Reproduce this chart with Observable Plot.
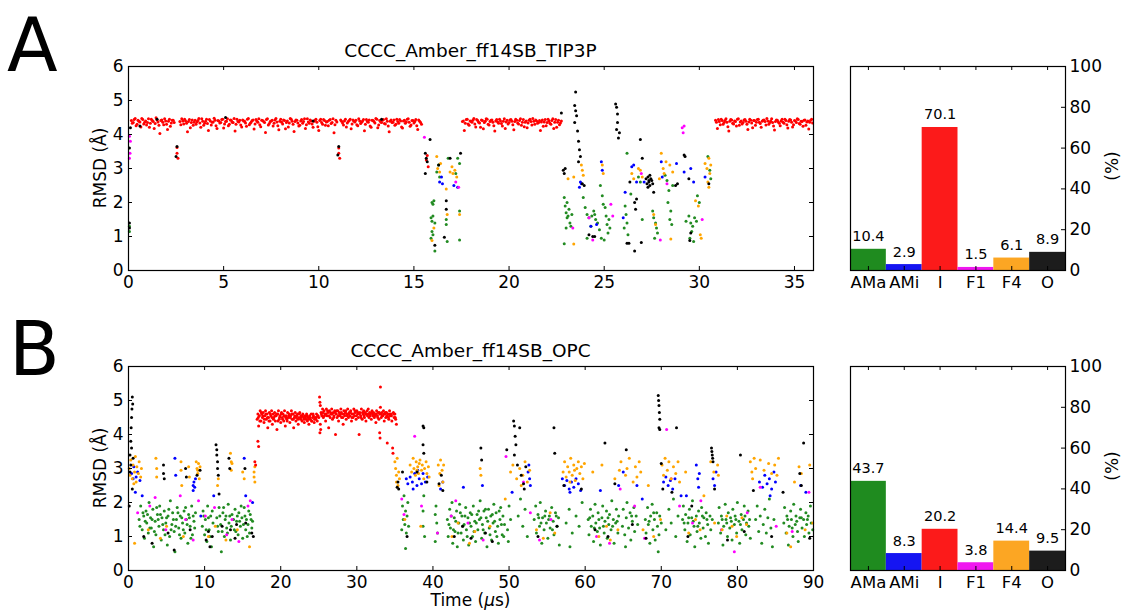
<!DOCTYPE html>
<html><head><meta charset="utf-8">
<script src="https://cdn.jsdelivr.net/npm/d3@7"></script>
<script src="https://cdn.jsdelivr.net/npm/@observablehq/plot@0.6"></script>
<style>
body{margin:0;background:#fff;}
#root{position:relative;width:1121px;height:613px;overflow:hidden;font-family:"DejaVu Sans",sans-serif;}
#root svg{position:absolute;}
</style></head><body><div id="root"></div>
<script>
// ---------- data ----------
const states = ["AMa", "AMi", "I", "F1", "F4", "O"];
const dotColors = {AMa:"#228b22", AMi:"#0000ff", I:"#ff0000", F1:"#ff00ff", F4:"#ffa500", O:"#000000"};
const barColors = ["#1f8b1f", "#1515f2", "#fc1a1a", "#f018f0", "#fca623", "#1c1c1c"];
const pctA = [10.4, 2.9, 70.1, 1.5, 6.1, 8.9];
const pctB = [43.7, 8.3, 20.2, 3.8, 14.4, 9.5];
const titleA = "CCCC_Amber_ff14SB_TIP3P";
const titleB = "CCCC_Amber_ff14SB_OPC";
const xTicksA = [0, 5, 10, 15, 20, 25, 30, 35];
const xTicksB = [0, 10, 20, 30, 40, 50, 60, 70, 80, 90];
const yTicksRmsd = [0, 1, 2, 3, 4, 5, 6];
const yTicksPct = [0, 20, 40, 60, 80, 100];

// panel A points: [time (us), RMSD (A)] pairs
const aI = [
0.15,4.41,0.25,4.35,0.35,4.47,0.45,4.30,0.55,4.39,0.65,4.22,0.75,4.44,0.85,4.36,0.95,4.28,1.05,4.46,1.15,4.33,1.25,4.41,1.35,4.18,1.45,4.49,1.55,4.37,1.65,4.03,1.75,4.43,1.85,4.29,1.95,4.40,2.05,4.15,2.15,4.45,2.25,4.34,2.35,4.42,2.55,3.62,2.55,3.45,2.6,3.3,2.7,4.38,2.8,4.46,2.9,4.31,3.0,4.40,3.1,4.08,3.2,4.44,3.3,4.35,3.4,4.27,3.5,4.42,3.6,4.37,3.7,4.47,3.8,4.21,3.9,4.39,4.0,4.33,4.1,4.45,4.2,4.12,4.3,4.40,4.4,4.36,4.5,4.48,4.6,4.26,4.7,4.41,4.8,4.34,4.9,4.44,5.0,4.19,5.1,4.38,5.2,4.46,5.3,4.30,5.4,4.42,5.5,4.35,5.6,4.10,5.7,4.45,5.8,4.37,5.9,4.28,6.0,4.43,6.1,4.39,6.2,4.24,6.3,4.47,6.4,4.33,6.5,4.41,6.6,4.16,6.7,4.44,6.8,4.36,6.9,4.29,7.0,4.42,7.1,4.38,7.2,4.06,7.3,4.46,7.4,4.32,7.5,4.40,7.6,4.25,7.7,4.43,7.8,4.37,7.9,4.14,8.0,4.45,8.1,4.31,8.2,4.41,8.3,4.35,8.4,4.22,8.5,4.47,8.6,4.39,8.7,4.09,8.8,4.43,8.9,4.34,9.0,4.27,9.1,4.44,9.2,4.38,9.3,4.18,9.4,4.46,9.5,4.33,9.6,4.40,9.7,4.21,9.8,4.42,9.9,4.36,10.0,4.12,10.1,4.45,10.2,4.30,10.3,4.41,10.4,4.37,10.5,4.26,10.6,4.44,10.7,4.35,10.8,4.05,10.9,4.42,11.05,3.6,11.05,3.45,11.1,3.3,11.2,4.39,11.3,4.28,11.4,4.45,11.5,4.34,11.6,4.41,11.7,4.17,11.8,4.43,11.9,4.37,12.0,4.29,12.1,4.46,12.2,4.32,12.3,4.40,12.4,4.11,12.5,4.44,12.6,4.36,12.7,4.25,12.8,4.42,12.9,4.38,13.0,4.47,13.1,4.20,13.2,4.41,13.3,4.35,13.4,4.44,13.5,4.31,13.6,4.39,13.7,4.08,13.8,4.43,13.9,4.36,14.0,4.27,14.1,4.45,14.2,4.33,14.3,4.40,14.4,4.19,14.5,4.42,14.6,4.37,14.7,4.46,14.8,4.24,14.9,4.41,15.0,4.34,15.1,4.44,15.2,4.15,15.3,4.39,15.4,4.30,
0.2,4.33,0.3,4.44,0.4,4.26,0.5,4.42,0.6,4.37,0.7,4.47,0.8,4.31,0.9,4.40,1.0,4.35,1.1,4.21,1.2,4.45,1.3,4.38,1.4,4.32,1.5,4.43,1.6,4.27,1.7,4.41,1.8,4.36,1.9,4.46,2.0,4.30,2.1,4.39,2.2,4.24,2.3,4.42,2.4,4.35,2.75,4.29,2.85,4.40,2.95,4.45,3.05,4.33,3.15,4.38,3.25,4.20,3.35,4.43,3.45,4.36,3.55,4.30,3.65,4.41,3.75,4.34,3.85,4.46,3.95,4.27,4.05,4.39,4.15,4.32,4.25,4.44,4.35,4.28,4.45,4.37,4.55,4.42,4.65,4.18,4.75,4.40,4.85,4.35,4.95,4.45,5.05,4.31,5.15,4.39,5.25,4.26,5.35,4.43,5.45,4.36,5.55,4.47,5.65,4.30,5.75,4.38,5.85,4.42,5.95,4.22,6.05,4.40,6.15,4.34,6.25,4.45,6.35,4.29,6.45,4.37,6.55,4.43,6.65,4.31,6.75,4.39,6.85,4.46,6.95,4.23,7.05,4.41,7.15,4.35,7.25,4.44,7.35,4.28,7.45,4.38,7.55,4.42,7.65,4.33,7.75,4.47,7.85,4.26,7.95,4.39,8.05,4.36,8.15,4.43,8.25,4.17,8.35,4.40,8.45,4.34,8.55,4.45,8.65,4.30,8.75,4.38,8.85,4.42,8.95,4.25,9.05,4.40,9.15,4.33,9.25,4.46,9.35,4.29,9.45,4.37,9.55,4.43,9.65,4.31,9.75,4.39,9.85,4.45,9.95,4.23,10.05,4.41,10.15,4.35,10.25,4.44,10.35,4.27,10.45,4.38,10.55,4.42,10.65,4.32,10.75,4.46,10.85,4.29,10.95,4.37,11.15,4.43,11.25,4.34,11.35,4.40,11.45,4.22,11.55,4.38,11.65,4.45,11.75,4.31,11.85,4.39,11.95,4.42,12.05,4.26,12.15,4.40,12.25,4.36,12.35,4.44,12.45,4.30,12.55,4.38,12.65,4.43,12.75,4.21,12.85,4.41,12.95,4.34,13.05,4.45,13.15,4.28,13.25,4.37,13.35,4.42,13.45,4.32,13.55,4.46,13.65,4.25,13.75,4.39,13.85,4.35,13.95,4.43,14.05,4.30,14.15,4.38,14.25,4.44,14.35,4.22,14.45,4.40,14.55,4.33,14.65,4.45,14.75,4.36,14.85,4.28,14.95,4.41,15.05,4.38,15.15,4.26,15.25,4.43,15.35,4.35,
15.7,3.38,15.75,3.05,15.65,3.25,
17.55,4.38,17.65,4.12,17.75,4.44,17.85,4.31,17.95,4.40,18.05,4.36,18.15,4.47,18.25,4.22,18.35,4.41,18.45,4.34,18.55,4.43,18.65,4.17,18.75,4.39,18.85,4.45,18.95,4.28,19.05,4.42,19.15,4.36,19.25,4.10,19.35,4.44,19.45,4.33,19.55,4.40,19.65,4.25,19.75,4.46,19.85,4.37,19.95,4.31,20.05,4.43,20.15,4.39,20.25,4.14,20.35,4.45,20.45,4.34,20.55,4.41,20.65,4.27,20.75,4.44,20.85,4.36,20.95,4.20,21.05,4.42,21.15,4.38,21.25,4.47,21.35,4.30,21.45,4.40,21.55,4.35,21.65,4.12,21.75,4.43,21.85,4.37,21.95,4.26,22.05,4.45,22.15,4.33,22.25,4.41,22.35,4.18,22.45,4.44,22.55,4.36,22.65,4.29,22.75,4.40,
17.6,4.40,17.7,4.33,17.8,4.45,17.9,4.27,18.0,4.39,18.1,4.42,18.2,4.31,18.3,4.44,18.4,4.36,18.5,4.21,18.6,4.41,18.7,4.35,18.8,4.46,18.9,4.30,19.0,4.38,19.1,4.43,19.2,4.26,19.3,4.40,19.4,4.37,19.5,4.45,19.6,4.32,19.7,4.39,19.8,4.18,19.9,4.42,20.0,4.35,20.1,4.44,20.2,4.29,20.3,4.38,20.4,4.42,20.5,4.31,20.6,4.46,20.7,4.36,20.8,4.23,20.9,4.40,21.0,4.34,21.1,4.45,21.2,4.28,21.3,4.39,21.4,4.43,21.5,4.33,21.6,4.41,21.7,4.37,21.8,4.24,21.9,4.44,22.0,4.35,22.1,4.40,22.2,4.30,22.3,4.46,22.4,4.36,22.5,4.21,22.6,4.42,22.7,4.34,
30.85,4.42,30.95,4.18,31.05,4.38,31.15,4.45,31.25,4.30,31.35,4.41,31.45,4.36,31.55,4.10,31.65,4.44,31.75,4.33,31.85,4.40,31.95,4.25,32.05,4.46,32.15,4.37,32.25,4.31,32.35,4.43,32.45,4.39,32.55,4.15,32.65,4.45,32.75,4.34,32.85,4.41,32.95,4.27,33.05,4.44,33.15,4.36,33.25,4.21,33.35,4.42,33.45,4.38,33.55,4.47,33.65,4.30,33.75,4.40,33.85,4.35,33.95,4.13,34.05,4.43,34.15,4.37,34.25,4.26,34.35,4.45,34.45,4.33,34.55,4.41,34.65,4.19,34.75,4.44,34.85,4.36,34.95,4.29,35.05,4.40,35.15,4.46,35.25,4.32,35.35,4.39,35.45,4.24,35.55,4.43,35.65,4.37,35.75,4.16,35.85,4.42,35.95,4.34,
30.9,4.36,31.0,4.44,31.1,4.29,31.2,4.41,31.3,4.35,31.4,4.46,31.5,4.23,31.6,4.39,31.7,4.43,31.8,4.31,31.9,4.38,32.0,4.45,32.1,4.27,32.2,4.40,32.3,4.35,32.4,4.44,32.5,4.30,32.6,4.37,32.7,4.42,32.8,4.20,32.9,4.41,33.0,4.36,33.1,4.45,33.2,4.32,33.3,4.39,33.4,4.43,33.5,4.28,33.6,4.40,33.7,4.35,33.8,4.46,33.9,4.25,34.0,4.38,34.1,4.42,34.2,4.33,34.3,4.40,34.4,4.36,34.5,4.45,34.6,4.29,34.7,4.39,34.8,4.43,34.9,4.22,35.0,4.41,35.1,4.35,35.2,4.44,35.3,4.30,35.4,4.38,35.5,4.42,35.6,4.27,35.7,4.40,35.8,4.36,35.9,4.45
];
const aAMa = [
0.05,1.3,0.05,1.15,
15.95,2.0,16.0,1.95,16.05,2.05,15.9,1.55,15.95,1.45,16.0,1.6,16.1,1.4,15.95,1.15,16.0,1.05,15.9,0.95,16.1,0.57,16.2,2.9,16.3,3.1,16.35,2.75,16.7,1.5,16.7,1.35,16.75,0.85,16.8,3.3,17.3,3.3,17.4,3.15,17.2,2.85,17.4,1.75,17.4,0.9,
22.9,2.15,22.95,1.9,23.0,1.7,23.05,1.55,23.1,1.6,23.15,1.8,23.05,2.0,23.2,1.4,23.25,1.3,22.9,0.79,23.0,1.25,23.3,1.65,
23.9,2.15,24.0,1.85,24.1,1.65,24.2,1.55,24.35,1.6,24.5,1.65,24.55,1.5,24.65,1.4,24.3,1.3,24.45,1.75,24.1,0.95,24.75,1.2,
24.8,2.5,24.9,2.2,24.95,1.95,25.05,1.85,25.1,1.6,25.15,1.35,25.2,1.1,25.3,1.25,24.85,0.95,25.0,0.9,25.25,1.5,
26.2,3.45,26.1,1.9,26.15,1.65,26.2,1.4,26.05,1.25,26.25,1.05,26.4,2.25,26.8,2.75,26.9,2.6,27.0,1.5,
27.55,1.75,27.6,1.55,27.7,1.4,27.75,1.25,27.8,1.1,27.65,0.95,
28.2,2.8,28.3,2.65,28.4,2.35,28.35,2.0,28.5,1.75,28.45,1.5,28.55,1.35,28.6,2.5,
29.3,1.45,29.45,1.6,29.55,1.4,29.65,1.3,29.75,1.55,29.85,1.45,29.6,1.15,29.5,0.95,29.7,0.85,29.9,2.2,30.0,2.0,
30.45,3.35,30.55,2.95,30.6,2.7
];
const aAMi = [16.35,2.6,16.45,2.75,16.5,2.55,17.1,2.5,17.3,2.45,23.7,2.45,23.8,2.55,23.75,2.6,24.85,3.2,24.9,2.95,24.3,1.3,24.6,1.35,26.1,2.3,26.45,3.05,26.55,3.1,26.7,2.6,27.1,2.6,28.0,3.2,28.05,2.75,28.8,3.15,29.2,2.9,29.55,3.0,29.7,2.6,30.3,2.75,26.0,1.55];
const aF1 = [0.05,3.3,0.08,3.45,0.1,3.8,0.05,3.95,15.55,3.92,17.35,2.45,17.2,2.6,24.2,1.55,24.4,0.9,25.35,1.95,25.45,1.6,26.95,2.85,27.95,0.9,29.1,4.2,29.15,4.05,29.2,4.25,28.3,2.55,30.15,1.5,23.35,1.25];
const aF4 = [16.2,3.35,16.25,3.0,16.35,2.9,16.4,3.15,15.95,0.88,16.7,2.4,16.75,1.65,17.0,3.05,17.05,2.85,17.15,2.95,17.25,2.75,16.9,2.9,17.4,1.65,16.05,1.25,23.1,2.7,23.4,2.75,23.4,0.78,23.85,2.95,23.8,3.1,23.9,2.8,24.9,3.1,24.95,2.85,26.45,2.85,26.55,2.7,26.8,3.0,26.9,2.95,27.0,2.75,27.6,1.65,27.7,1.35,28.0,3.45,28.1,3.0,28.15,2.85,27.9,2.7,28.25,3.2,28.45,3.1,28.5,0.93,28.6,2.9,29.8,2.05,29.95,1.9,30.05,1.05,30.1,0.95,30.3,3.15,30.4,3.0,30.5,3.3,30.55,2.85,30.6,3.1,30.45,2.6,30.5,2.45];
const aO = [0.05,3.6,0.1,4.2,0.05,1.25,0.05,1.4,0.6,4.25,2.55,3.65,2.5,3.35,11.05,3.65,11.0,3.4,1.5,4.45,5.1,4.5,9.7,4.4,13.3,4.45,
15.6,3.45,15.65,3.3,15.7,3.2,15.6,2.85,15.85,3.85,16.3,3.1,16.7,2.05,16.7,1.8,16.6,0.98,16.1,0.74,16.9,3.3,17.45,3.45,
22.75,4.63,22.85,2.95,22.9,2.85,22.95,3.0,23.5,5.25,23.45,4.85,23.5,4.7,23.55,4.55,23.45,4.35,23.6,4.1,23.65,3.8,23.7,3.55,23.75,3.35,23.65,3.2,23.85,2.55,23.95,2.5,24.2,1.05,24.4,1.0,24.5,1.0,
25.6,4.9,25.65,4.8,25.7,4.6,25.7,4.35,25.65,4.15,25.8,4.05,25.75,3.9,26.2,0.8,26.3,0.8,26.6,0.57,26.6,2.0,26.65,1.8,26.7,2.1,26.35,2.6,26.9,3.85,27.0,3.3,26.95,0.82,
27.2,2.7,27.25,2.55,27.3,2.75,27.35,2.6,27.4,2.5,27.45,2.7,27.5,2.65,27.3,2.45,27.55,2.55,27.4,2.8,27.35,2.65,27.6,2.3,
28.75,2.5,28.85,2.55,29.2,3.4,29.25,3.35,29.45,2.7,29.55,1.1,29.5,0.88,30.5,2.55];

// panel B points
const bI = [
16.6,3.2,16.7,3.1,17.0,3.8,17.1,3.65,
16.9,4.45,17.0,4.6,17.1,4.25,17.2,4.55,17.3,4.7,17.4,4.4,17.5,4.6,17.6,4.5,17.7,4.65,17.8,4.35,17.9,4.55,18.0,4.7,18.1,4.45,18.2,4.6,18.3,4.2,18.4,4.5,18.5,4.65,18.6,4.4,18.7,4.55,18.8,4.7,18.9,4.3,19.0,4.6,19.1,4.5,19.2,4.65,19.3,4.4,19.4,4.55,19.5,4.15,19.6,4.6,19.7,4.7,19.8,4.45,19.9,4.55,20.0,4.35,20.1,4.65,20.2,4.5,20.3,4.6,20.4,4.4,20.5,4.7,20.6,4.25,20.7,4.55,20.8,4.45,20.9,4.65,21.0,4.5,21.1,4.6,21.2,4.35,21.3,4.55,21.4,4.7,21.5,4.45,21.6,4.6,21.7,4.2,21.8,4.5,21.9,4.65,22.0,4.4,22.1,4.55,22.2,4.6,22.3,4.3,22.4,4.5,22.5,4.65,22.6,4.45,22.7,4.55,22.8,4.4,22.9,4.6,23.0,4.5,23.1,4.35,23.2,4.55,23.3,4.45,23.4,4.6,23.5,4.4,23.6,4.5,23.7,4.3,23.8,4.55,23.9,4.45,24.0,4.6,24.1,4.4,24.2,4.5,24.3,4.55,24.4,4.35,24.5,4.5,24.6,4.45,24.7,4.6,24.8,4.4,24.9,4.55,25.0,4.5,
25.1,5.1,25.15,4.95,25.2,4.85,25.2,4.3,25.25,4.15,25.15,4.05,
25.3,4.65,25.4,4.55,25.5,4.75,25.6,4.5,25.7,4.7,25.8,4.6,25.9,4.4,26.0,4.75,26.1,4.55,26.2,4.65,26.3,4.2,26.4,4.7,26.5,4.5,26.6,4.6,26.7,4.75,26.8,4.45,26.9,4.65,27.0,4.55,27.1,4.7,27.2,4.0,27.3,4.6,27.4,4.5,27.5,4.7,27.6,4.4,27.7,4.65,27.8,4.55,27.9,4.75,28.0,4.5,28.1,4.6,28.2,4.3,28.3,4.7,28.4,4.55,28.5,4.65,28.6,4.45,28.7,4.6,28.8,4.75,28.9,4.5,29.0,4.65,29.1,4.55,29.2,4.7,29.3,4.4,29.4,4.6,29.5,4.5,29.6,4.75,29.7,4.55,29.8,4.65,29.9,4.45,30.0,4.7,30.1,4.6,30.2,4.5,30.3,4.0,30.4,4.65,30.5,4.55,30.6,4.75,30.7,4.45,30.8,4.6,30.9,4.7,31.0,4.5,31.1,4.65,31.2,4.4,31.3,4.6,31.4,4.55,31.5,4.75,31.6,4.5,31.7,4.65,31.8,4.6,31.9,4.45,32.0,4.7,32.1,4.55,32.2,4.65,32.3,4.5,32.4,4.6,32.5,4.35,32.6,4.7,32.7,4.55,32.8,4.65,32.9,4.45,33.0,4.6,33.0,4.05,33.05,3.9,33.1,5.4,33.1,4.8,33.2,4.5,33.3,4.65,33.4,4.55,33.5,4.7,33.6,4.4,33.7,4.6,33.8,4.5,33.9,4.65,34.0,3.75,34.0,4.55,34.1,4.6,34.2,4.45,34.3,4.7,34.4,4.55,34.5,4.6,34.6,4.4,34.7,3.6,34.75,3.45,34.8,4.65,34.9,4.5,35.0,4.6,35.1,4.45,35.2,4.3,
17.05,4.5,17.25,4.4,17.45,4.65,17.65,4.55,17.85,4.45,18.05,4.6,18.25,4.5,18.45,4.4,18.65,4.6,18.85,4.5,19.05,4.45,19.25,4.55,19.45,4.6,19.65,4.4,19.85,4.5,20.05,4.6,20.25,4.45,20.45,4.55,20.65,4.5,20.85,4.4,21.05,4.55,21.25,4.5,21.45,4.6,21.65,4.45,21.85,4.55,22.05,4.5,22.25,4.45,22.45,4.6,22.65,4.5,22.85,4.55,23.05,4.45,23.25,4.5,23.45,4.55,23.65,4.45,23.85,4.5,24.05,4.4,24.25,4.6,24.45,4.45,24.65,4.5,24.85,4.55,25.35,4.6,25.55,4.65,25.75,4.55,25.95,4.6,26.15,4.7,26.35,4.55,26.55,4.65,26.75,4.6,26.95,4.5,27.15,4.65,27.35,4.7,27.55,4.55,27.75,4.6,27.95,4.65,28.15,4.5,28.35,4.6,28.55,4.7,28.75,4.55,28.95,4.6,29.15,4.65,29.35,4.5,29.55,4.6,29.75,4.7,29.95,4.55,30.15,4.65,30.35,4.6,30.55,4.5,30.75,4.65,30.95,4.55,31.15,4.6,31.35,4.7,31.55,4.6,31.75,4.55,31.95,4.65,32.15,4.6,32.35,4.55,32.55,4.6,32.75,4.5,32.95,4.65,33.15,4.6,33.35,4.55,33.55,4.6,33.75,4.65,33.95,4.55,34.15,4.5,34.35,4.6,34.55,4.55,34.85,4.6,35.05,4.5
];
const bAMa = [
1.4,1.5,1.6,1.9,1.8,1.2,2.0,1.6,2.1,0.95,2.3,1.75,2.4,1.4,2.6,1.1,2.7,2.0,2.9,1.55,3.0,1.25,3.2,1.8,3.3,0.7,3.5,1.45,3.6,1.05,3.8,1.65,4.0,1.3,4.1,1.9,4.3,0.9,4.4,1.55,4.6,1.2,4.7,1.75,4.9,1.4,5.1,0.75,5.2,1.6,5.4,1.0,5.5,2.05,5.7,1.35,5.8,1.7,6.0,1.15,6.1,0.55,6.3,1.5,6.4,1.85,6.6,1.25,6.8,1.6,6.9,0.95,7.1,1.4,7.3,1.75,7.4,1.1,7.6,1.5,7.8,0.8,7.9,1.65,8.1,1.3,8.3,1.9,8.4,1.05,8.6,1.45,8.8,1.7,9.7,1.3,9.8,1.75,10.0,1.05,10.1,1.5,10.3,0.85,10.4,1.9,10.6,1.2,10.8,1.6,10.9,0.7,11.1,1.4,11.6,1.55,11.8,1.15,11.9,1.85,12.1,1.35,12.2,0.55,12.4,1.7,12.6,1.0,12.7,1.5,12.9,1.25,13.1,1.95,13.2,1.4,13.4,0.9,13.6,1.65,13.9,1.2,14.0,1.8,14.2,1.45,14.4,1.05,14.5,1.7,14.7,1.3,14.9,1.55,15.0,0.95,15.2,1.85,15.4,1.2,15.5,1.5,15.7,1.35,15.9,1.1,16.0,1.65,16.2,1.25,16.3,1.45,
1.5,1.3,1.9,1.7,2.2,1.45,2.5,1.65,2.8,1.25,3.1,1.5,3.4,1.15,3.7,1.85,3.9,1.5,4.2,1.65,4.5,1.35,4.8,1.05,5.0,1.55,5.3,1.8,5.6,1.2,5.9,1.5,6.2,1.3,6.5,1.7,6.7,1.05,7.0,1.55,7.2,1.2,7.5,1.85,7.7,1.35,8.0,1.55,8.2,0.95,8.5,1.6,8.7,1.25,9.9,1.6,10.2,1.2,10.5,1.55,10.7,1.0,11.0,1.75,11.7,1.3,12.0,1.6,12.3,1.15,12.5,1.85,12.8,1.6,13.0,1.1,13.3,1.6,13.5,1.3,13.8,1.5,14.1,1.15,14.3,1.6,14.6,1.45,14.8,1.9,15.1,1.35,15.3,1.6,15.6,1.0,15.8,1.75,16.1,1.5,
35.9,1.2,36.0,1.9,36.1,1.5,36.2,2.2,36.3,1.35,36.4,1.75,36.5,1.1,36.6,1.6,36.7,2.0,36.4,0.65,36.8,1.3,38.7,1.3,38.8,2.2,38.7,1.75,38.9,1.0,40.3,0.85,40.4,1.9,40.5,1.4,40.6,1.1,40.3,1.65,
41.9,1.5,42.0,1.0,42.2,1.8,42.3,1.25,42.5,2.0,42.6,0.8,42.8,1.55,42.9,1.15,43.1,1.75,43.2,0.7,43.4,1.4,43.5,1.95,43.7,1.1,43.8,1.6,44.0,0.9,44.1,1.35,44.3,1.85,44.4,1.2,44.6,1.55,44.7,0.75,44.9,1.7,45.0,1.3,45.2,1.0,45.3,1.9,45.5,1.45,45.6,0.85,45.8,1.65,45.9,1.2,46.1,1.5,46.2,2.05,46.4,0.95,46.5,1.35,46.7,1.75,46.8,1.1,47.0,1.55,47.1,0.7,47.3,1.8,47.4,1.25,47.6,1.6,47.7,0.9,47.9,1.4,48.0,1.95,48.2,1.15,48.3,1.7,48.5,1.3,48.6,0.8,48.8,1.5,48.9,1.85,49.1,1.05,49.2,1.6,49.4,1.35,
42.1,1.35,42.4,1.6,42.7,1.2,43.0,1.45,43.3,1.1,43.6,1.7,43.9,1.3,44.2,1.6,44.5,1.0,44.8,1.4,45.1,1.65,45.4,1.15,45.7,1.4,46.0,1.75,46.3,1.55,46.6,1.2,46.9,1.8,47.2,1.45,47.5,1.05,47.8,1.65,48.1,1.45,48.4,1.0,48.7,1.75,49.0,1.35,49.3,1.0,
49.8,1.2,50.0,1.9,50.2,1.5,49.9,0.85,51.2,1.6,51.5,2.1,51.8,1.3,52.1,1.8,52.4,1.0,
53.3,1.5,53.5,1.9,53.6,1.1,53.8,1.65,54.0,1.3,54.1,2.0,54.3,0.8,54.4,1.55,54.6,1.2,54.8,1.75,54.9,1.4,55.1,0.95,55.3,1.6,55.4,1.25,55.6,1.85,55.8,1.45,55.9,1.05,56.1,1.7,56.3,1.3,56.5,1.55,56.6,0.75,53.9,1.55,54.2,1.4,54.7,1.6,55.2,1.5,55.7,1.2,56.2,1.6,
57.5,1.4,57.9,1.8,58.3,1.1,58.8,1.6,59.2,1.3,59.6,2.0,58.0,0.7,
60.4,1.5,60.5,1.05,60.7,1.8,60.8,1.3,61.0,1.6,61.1,0.85,61.3,1.95,61.4,1.4,61.6,1.15,61.7,1.7,61.9,1.25,62.0,0.75,62.2,1.55,62.3,1.9,62.5,1.1,62.6,1.45,62.8,1.75,62.9,0.95,63.1,1.35,63.2,1.65,63.4,1.2,63.5,2.05,63.7,1.5,63.8,0.8,64.0,1.4,64.1,1.8,64.3,1.1,64.4,1.6,60.6,1.55,61.2,1.25,61.8,1.5,62.4,1.3,63.0,1.55,63.6,1.3,64.2,1.45,
64.9,1.3,65.0,1.8,65.2,1.05,65.4,1.55,65.5,2.0,65.7,1.25,65.9,1.7,66.0,0.9,66.2,1.45,66.4,1.85,66.5,1.15,66.7,1.6,66.9,1.35,65.3,0.7,66.1,1.6,
67.9,1.5,68.0,1.1,68.2,1.85,68.3,1.35,68.5,0.8,68.6,1.6,68.8,1.95,68.9,1.2,69.1,1.5,69.2,0.9,69.4,1.7,69.5,1.3,69.7,1.05,69.8,1.6,70.0,1.4,69.6,0.55,68.4,1.45,69.0,1.7,
70.6,1.2,71.0,1.8,71.3,1.4,71.6,2.1,71.9,1.0,72.2,1.6,
72.8,1.5,72.9,1.9,73.1,1.2,73.2,1.65,73.4,0.85,73.5,1.4,73.7,1.8,73.8,1.05,74.0,1.55,74.1,2.05,74.3,1.3,74.4,0.7,74.6,1.6,74.7,1.15,74.9,1.75,75.0,1.4,75.2,0.95,75.3,1.85,75.5,1.25,75.6,1.55,75.8,1.0,75.9,1.7,76.1,1.35,76.2,0.8,76.4,1.6,76.5,1.2,76.7,1.5,73.0,1.4,73.6,1.55,74.2,1.45,74.8,1.3,75.4,1.6,76.0,1.5,
77.5,1.4,77.6,1.85,77.8,1.1,77.9,1.6,78.1,0.75,78.2,1.3,78.4,1.95,78.5,1.5,78.7,1.0,78.8,1.7,79.0,1.25,79.1,1.55,79.3,0.9,79.4,1.8,79.6,1.35,79.7,1.6,79.9,1.1,80.0,2.0,80.2,1.45,80.3,0.8,80.5,1.65,80.6,1.2,80.8,1.5,80.9,1.9,81.1,1.05,81.2,1.4,81.4,1.75,81.5,1.3,81.7,0.95,78.0,1.5,78.6,1.4,79.2,1.45,79.8,1.5,80.4,1.35,81.0,1.6,81.6,1.5,
82.4,1.5,82.6,1.9,82.8,1.15,83.0,1.6,83.2,0.8,83.4,1.35,83.6,1.8,83.8,1.1,84.0,1.55,84.2,2.1,84.4,1.25,84.6,0.7,84.8,1.5,
86.1,1.4,86.2,1.85,86.4,1.1,86.5,1.6,86.7,0.75,86.8,1.3,87.0,1.75,87.1,1.5,87.3,1.0,87.4,1.95,87.6,1.35,87.7,1.6,87.9,1.15,88.0,0.85,88.2,1.55,88.3,1.8,88.5,1.25,88.7,1.5,88.8,1.0,89.0,1.7,89.1,1.35,89.3,1.6,89.4,1.1,89.6,1.9,89.7,1.4,89.9,1.2,86.6,1.5,87.2,1.25,87.8,1.45,88.4,1.55,89.2,1.5
];
const bAMi = [0.4,2.85,0.6,2.7,0.7,3.05,0.9,2.3,1.0,2.75,1.2,2.9,1.5,2.65,1.8,2.2,6.1,3.3,6.2,2.8,8.5,2.5,8.6,2.6,8.7,2.45,8.8,2.7,8.5,2.35,9.5,1.6,11.2,2.2,15.2,3.3,15.4,2.2,16.3,2.0,
36.5,2.7,36.7,2.55,37.0,2.75,37.3,2.6,37.6,2.85,37.9,2.5,38.2,2.7,38.5,2.55,38.7,2.85,39.0,2.6,39.3,2.75,37.4,2.4,38.0,2.95,41.0,2.4,41.3,2.6,44.0,2.45,46.5,2.5,52.5,2.9,52.7,2.7,52.6,3.1,52.8,2.5,50.4,2.3,
57.0,2.7,57.3,2.5,57.6,2.65,57.9,2.4,58.2,2.6,58.5,2.45,58.8,2.7,59.1,2.55,59.4,2.35,58.0,2.3,62.0,2.35,64.4,2.5,65.0,2.9,66.8,2.5,67.5,2.1,
70.3,2.6,70.6,2.75,70.9,2.5,71.2,2.65,71.5,2.4,71.8,2.7,72.6,2.2,73.3,2.2,74.6,3.1,74.8,2.7,75.0,2.85,74.9,2.45,76.8,2.7,77.0,2.5,77.2,2.9,
82.9,2.6,83.3,2.45,83.6,2.8,83.9,2.55,84.2,2.7,84.5,2.4,84.8,2.9,84.3,2.2,85.0,2.6,88.3,2.5,89.0,2.3];
const bF1 = [1.2,1.7,2.8,1.9,3.5,2.15,4.9,1.2,6.8,2.2,7.5,1.5,8.5,0.9,9.2,2.05,10.1,1.6,11.3,1.85,12.9,1.05,13.6,1.5,14.5,0.85,15.7,1.9,16.0,2.05,35.9,2.1,36.2,1.65,37.6,3.95,38.5,1.9,40.6,1.1,42.4,1.6,43.0,2.05,44.6,1.4,46.6,0.9,49.6,3.35,51.9,2.6,52.8,1.7,54.0,0.9,55.5,1.5,61.5,1.0,63.2,0.8,64.6,2.4,66.5,1.9,67.8,0.95,70.7,4.15,71.3,2.7,72.4,1.9,74.1,1.4,75.2,2.05,77.9,1.2,79.6,0.55,81.3,1.7,83.0,2.45,85.1,1.3,87.2,1.15,89.4,2.3];
const bF4 = [0.1,3.0,0.2,2.8,0.3,3.25,0.5,2.7,0.6,3.1,0.8,2.9,0.9,3.35,1.0,2.6,1.1,3.05,1.3,2.85,1.4,3.2,1.6,2.75,1.7,3.0,0.7,2.55,0.8,0.8,
2.6,1.2,3.6,3.3,3.7,3.0,3.7,2.75,4.2,0.95,5.0,1.3,6.9,3.2,6.9,2.95,7.0,2.5,7.2,1.0,7.9,3.05,8.0,2.75,8.9,3.2,9.0,3.0,9.1,2.85,9.2,3.15,9.3,2.7,9.1,2.95,9.4,3.05,10.5,1.0,11.4,1.3,11.7,2.5,11.8,2.7,12.8,0.9,13.4,3.45,13.5,3.2,13.5,2.95,13.6,3.15,14.3,1.2,15.0,2.9,15.2,2.7,15.9,0.7,16.5,2.9,16.6,2.6,16.6,3.05,16.5,2.75,
35.0,3.2,35.1,3.0,35.2,2.8,35.3,3.3,35.2,2.6,35.4,2.5,35.5,2.9,35.6,2.7,36.3,1.5,
37.0,3.1,37.2,2.9,37.4,3.3,37.5,3.0,37.7,2.8,37.8,3.2,38.0,3.05,38.1,2.85,38.3,3.25,38.5,2.95,38.6,3.1,38.8,2.7,38.9,3.0,39.1,3.2,39.2,2.85,39.4,3.05,39.5,2.75,38.2,3.15,37.9,2.95,38.4,1.3,
40.7,3.1,40.9,2.85,41.0,3.25,41.2,2.95,41.3,2.6,41.4,3.1,40.8,2.5,42.5,1.0,43.3,1.4,44.8,0.8,45.5,1.15,46.2,3.0,46.3,2.8,47.5,1.3,49.5,2.1,
50.2,2.9,50.5,3.1,51.0,2.7,51.4,3.0,51.8,2.8,52.1,3.2,52.4,2.6,52.7,2.95,51.6,2.5,53.6,1.2,54.5,0.95,55.4,1.7,56.0,1.1,
57.1,2.9,57.3,3.2,57.5,2.75,57.7,3.05,57.9,2.9,58.1,3.3,58.3,2.8,58.5,3.1,58.7,2.65,58.9,3.0,59.1,3.2,59.3,2.85,59.5,3.05,59.7,2.7,59.9,3.15,58.0,2.6,58.6,2.95,
61.0,2.9,61.8,1.0,62.2,3.1,62.8,1.3,63.3,0.9,63.9,2.7,64.3,1.2,64.5,2.95,64.7,3.2,65.3,2.8,65.5,3.0,65.8,3.3,66.3,2.6,66.6,3.05,66.8,2.75,67.1,3.2,67.3,2.9,67.6,1.2,68.3,2.5,69.0,1.0,69.9,1.5,
70.1,3.1,70.3,2.8,70.5,3.3,70.8,2.95,71.0,3.2,71.3,2.7,71.6,3.05,71.9,2.85,72.2,3.2,72.4,2.6,73.2,2.9,73.6,1.1,74.5,1.5,75.1,1.2,75.6,2.2,76.5,3.2,76.9,2.9,77.0,1.4,
77.4,3.1,77.5,2.8,78.0,1.2,78.6,1.6,79.3,1.3,79.9,1.0,80.6,1.55,81.2,1.35,
81.7,3.2,81.9,2.9,82.0,2.7,82.2,3.3,82.4,3.0,83.0,3.25,83.5,2.95,84.1,3.15,84.5,2.85,84.9,3.1,85.2,2.8,85.4,3.3,86.5,1.1,87.0,0.7,87.5,2.6,88.1,3.05,88.4,2.85,88.9,1.2,89.5,3.1,89.9,1.4];
const bO = [0.2,3.4,0.3,3.8,0.35,4.2,0.4,4.5,0.45,4.75,0.5,5.1,0.55,4.9,0.4,3.6,0.3,3.1,0.2,2.9,0.6,3.3,0.1,1.9,0.5,2.4,2.0,1.0,3.1,0.8,4.6,3.1,4.6,2.85,4.7,2.7,5.2,1.1,6.0,0.6,7.5,3.0,7.6,2.75,8.1,1.2,9.0,2.8,9.4,2.95,10.2,0.9,10.5,1.15,10.7,0.7,11.0,1.0,11.5,3.7,11.6,3.55,11.6,3.4,11.7,3.2,11.7,3.0,11.8,2.8,11.9,2.25,12.3,1.3,13.2,3.3,13.3,3.0,13.4,1.2,14.0,0.95,14.2,1.35,15.3,3.0,15.4,1.4,16.2,1.1,16.4,1.0,
35.3,2.45,35.4,2.6,35.5,2.4,36.6,1.0,36.0,2.9,38.7,4.25,38.8,4.2,38.7,3.7,38.8,3.45,39.2,2.6,37.9,2.9,40.8,2.55,41.1,2.8,41.3,2.35,42.8,1.0,43.9,1.3,45.0,0.95,46.3,3.6,46.4,3.25,46.9,1.1,47.8,0.85,49.7,3.55,
50.6,4.4,50.7,4.25,50.8,3.95,50.9,3.7,50.7,3.4,51.1,3.1,51.4,4.2,51.6,2.8,51.9,2.55,52.2,3.05,52.0,2.4,53.8,1.0,55.9,4.2,56.0,3.45,56.3,1.3,57.2,2.5,59.5,2.4,61.3,1.2,62.6,3.75,63.0,1.0,63.9,2.55,65.4,3.55,66.2,1.35,68.0,0.95,
69.6,5.15,69.65,5.0,69.7,4.85,69.75,4.65,69.8,4.45,69.7,4.2,69.8,4.15,70.0,3.15,70.2,2.4,71.4,2.3,72.0,4.2,73.5,1.0,74.0,1.9,76.6,3.6,76.65,3.5,76.7,3.4,76.75,3.3,76.8,3.2,77.0,2.4,78.7,0.9,80.4,3.4,80.9,1.15,82.1,2.35,84.5,1.0,86.0,2.3,88.2,2.85,88.7,3.75,88.4,2.5,89.5,0.95];

// ---------- helpers ----------
function toPoints(flat, state) {
  const out = [];
  for (let i = 0; i + 1 < flat.length; i += 2) out.push({t: flat[i], v: flat[i + 1], state});
  return out;
}
const drawOrder = ["AMa", "AMi", "F1", "F4", "I", "O"];
const panelA = {AMa: aAMa, AMi: aAMi, I: aI, F1: aF1, F4: aF4, O: aO};
const panelB = {AMa: bAMa, AMi: bAMi, I: bI, F1: bF1, F4: bF4, O: bO};

const root = document.getElementById("root");
const FONT = "DejaVu Sans";

function place(svg, left, top) {
  svg.style.left = left + "px";
  svg.style.top = top + "px";
  root.appendChild(svg);
}

function scatter(panel, xDomain, xTicks, top, height, mt, mb) {
  const width = 840, ml = 128, mr = 27;
  const fw = width - ml - mr, fh = height - mt - mb;
  const marks = drawOrder.map(s =>
    Plot.dot(toPoints(panel[s], s), {x: "t", y: "v", r: 1.5, fill: dotColors[s], stroke: "none"}));
  marks.push(
    Plot.axisX(xTicks, {anchor: "bottom", tickSize: 0, tickPadding: 5}),
    Plot.axisY(yTicksRmsd, {anchor: "left", tickSize: 0, tickPadding: 5}),
    Plot.tickX(xTicks, {x: d => d, insetBottom: fh - 4, stroke: "black"}),
    Plot.tickX(xTicks, {x: d => d, insetTop: fh - 4, stroke: "black"}),
    Plot.tickY(yTicksRmsd, {y: d => d, insetRight: fw - 4, stroke: "black"}),
    Plot.tickY(yTicksRmsd, {y: d => d, insetLeft: fw - 4, stroke: "black"}),
    Plot.frame({stroke: "black", strokeWidth: 1.2})
  );
  const svg = Plot.plot({
    width, height, marginLeft: ml, marginRight: mr, marginTop: mt, marginBottom: mb,
    style: {fontFamily: FONT, fontSize: "17px", color: "black", background: "transparent", overflow: "visible"},
    x: {domain: xDomain, label: null},
    y: {domain: [0, 6], label: null},
    marks
  });
  place(svg, 0, top);
}

function bars(values, top, height, mt, mb) {
  const width = 281, ml = 10, mr = 56;
  const fw = width - ml - mr, fh = height - mt - mb;
  const data = states.map((s, i) => ({i, s, value: values[i], color: barColors[i]}));
  const centers = data.map(d => d.i + 0.5);
  const svg = Plot.plot({
    width, height, marginLeft: ml, marginRight: mr, marginTop: mt, marginBottom: mb,
    style: {fontFamily: FONT, fontSize: "17px", color: "black", background: "transparent", overflow: "visible"},
    x: {domain: [0, 6], label: null},
    y: {domain: [0, 100], label: null},
    color: {type: "identity"},
    marks: [
      Plot.rectY(data, {x1: "i", x2: d => d.i + 1, y: "value", fill: "color"}),
      Plot.text(data, {x: d => d.i + 0.5, y: "value", text: d => d.value.toFixed(1), dy: -8, lineAnchor: "bottom", fontSize: 14.5, fill: "black"}),
      Plot.axisX(centers, {anchor: "bottom", tickSize: 0, tickPadding: 6, tickFormat: d => states[Math.floor(d)], fontSize: 16.5}),
      Plot.axisY(yTicksPct, {anchor: "right", tickSize: 0, tickPadding: 4}),
      Plot.tickX(centers, {x: d => d, insetBottom: fh - 4, stroke: "black"}),
      Plot.tickX(centers, {x: d => d, insetTop: fh - 4, stroke: "black"}),
      Plot.tickY(yTicksPct, {y: d => d, insetLeft: fw - 4, stroke: "black"}),
      Plot.frame({stroke: "black", strokeWidth: 1.2})
    ]
  });
  place(svg, 840, top);
}

scatter(panelA, [0, 36], xTicksA, 0, 300, 66, 30);
bars(pctA, 0, 300, 66, 30);
scatter(panelB, [0, 90], xTicksB, 300, 313, 66, 43);
bars(pctB, 300, 313, 66, 43);

// ---------- titles, panel letters and axis titles ----------
const over = d3.create("svg").attr("width", 1121).attr("height", 613)
  .style("left", "0px").style("top", "0px").style("pointer-events", "none")
  .attr("font-family", FONT).attr("fill", "black");
over.append("text").attr("x", 7).attr("y", 71).attr("font-size", 74).text("A");
over.append("text").attr("x", 9).attr("y", 375).attr("font-size", 74).text("B");
over.append("text").attr("x", 470.5).attr("y", 57).attr("text-anchor", "middle").attr("font-size", 18.5).text(titleA);
over.append("text").attr("x", 470.5).attr("y", 357).attr("text-anchor", "middle").attr("font-size", 18.5).text(titleB);
over.append("text").attr("transform", "translate(106,168) rotate(-90)").attr("text-anchor", "middle").attr("font-size", 17).text("RMSD (Å)");
over.append("text").attr("transform", "translate(106,468) rotate(-90)").attr("text-anchor", "middle").attr("font-size", 17).text("RMSD (Å)");
over.append("text").attr("transform", "translate(1118,166) rotate(-90)").attr("text-anchor", "middle").attr("font-size", 17).text("(%)");
over.append("text").attr("transform", "translate(1118,466) rotate(-90)").attr("text-anchor", "middle").attr("font-size", 17).text("(%)");
const xl = over.append("text").attr("x", 470.5).attr("y", 606).attr("text-anchor", "middle").attr("font-size", 17);
xl.append("tspan").text("Time (");
xl.append("tspan").attr("font-style", "italic").text("μ");
xl.append("tspan").text("s)");
root.appendChild(over.node());
</script>
</body></html>
